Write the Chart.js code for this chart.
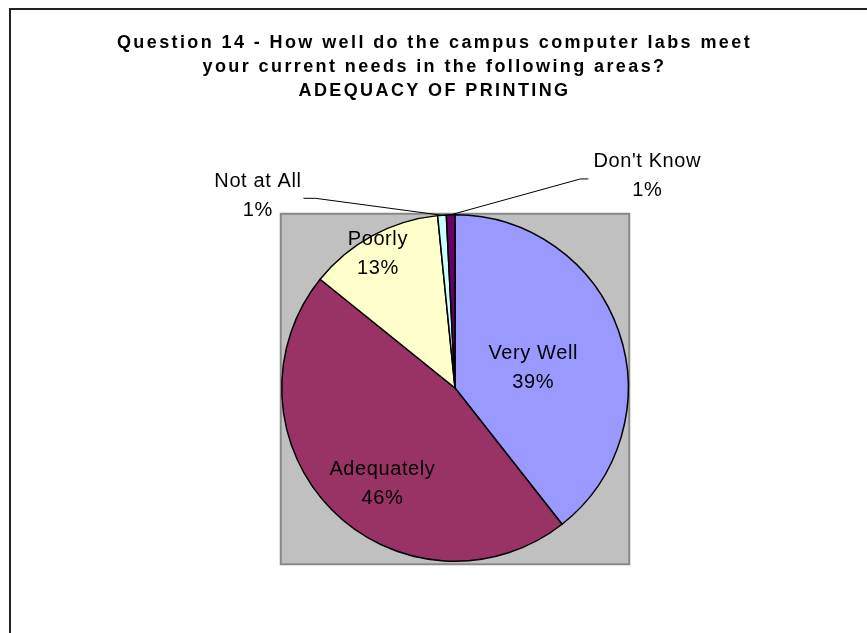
<!DOCTYPE html>
<html>
<head>
<meta charset="utf-8">
<script src="https://cdn.jsdelivr.net/npm/chart.js@4.4.0/dist/chart.umd.min.js"></script>
<style>
  html, body { margin: 0; padding: 0; background: #fff; }
</style>
</head>
<body>
<canvas id="printing-chart" width="867" height="633"></canvas>
<script>
const titleLines = [
  "Question 14 - How well do the campus computer labs meet",
  "your current needs in the following areas?",
  "ADEQUACY OF PRINTING",
];
const categories = ["Very Well", "Adequately", "Poorly", "Not at All", "Don't Know"];
const shares = [39.4, 46.4, 12.6, 0.8, 0.8];
const sliceColors = ["#9999FF", "#993366", "#FFFFCC", "#CCFFFF", "#660066"];

// label spot per slice: distance as part of the radius, turn (deg) away from the slice middle
const labelSpots = [
  { r: 0.466, turn: 4.8, outside: false },
  { r: 0.695, turn: -8.3, outside: false },
  { r: 0.892, turn: -1.5, outside: false },
  { r: 1.589, turn: -41.4, outside: true },
  { r: 1.65, turn: 43.7, outside: true },
];

const FONT = "'Liberation Sans', Arial, sans-serif";
const ctx = document.getElementById("printing-chart").getContext("2d");

const framePlugin = {
  id: "frame",
  beforeDatasetsDraw(chart) {
    const c = chart.ctx;
    const arc = chart.getDatasetMeta(0).data[0];
    const { x, y, outerRadius } = arc.getProps(["x", "y", "outerRadius"], true);
    c.save();
    c.fillStyle = "#C0C0C0";
    c.strokeStyle = "#888888";
    c.lineWidth = 2;
    const left = x - outerRadius - 1;
    const top = y - outerRadius - 1;
    c.fillRect(left, top, outerRadius * 2 + 2, outerRadius * 2 + 4);
    c.strokeRect(left, top, outerRadius * 2 + 2, outerRadius * 2 + 4);
    c.restore();
  },
  afterDraw(chart) {
    const c = chart.ctx;
    c.save();
    // outer chart frame (only top and left show)
    c.strokeStyle = "#222";
    c.lineWidth = 2;
    c.beginPath();
    c.moveTo(10, chart.height);
    c.lineTo(10, 9);
    c.lineTo(chart.width, 9);
    c.stroke();

    // title
    c.font = "bold 18px " + FONT;
    c.letterSpacing = "2.4px";
    c.fillStyle = "#000";
    c.textAlign = "center";
    c.textBaseline = "alphabetic";
    titleLines.forEach((line, i) => {
      c.fillText(line, chart.width / 2 + 1, 48 + i * 24);
    });
    c.restore();
  },
};

const labelPlugin = {
  id: "sliceLabels",
  afterDatasetsDraw(chart) {
    const c = chart.ctx;
    const total = shares.reduce((a, b) => a + b, 0);
    c.save();
    c.font = "20px " + FONT;
    c.letterSpacing = "0.6px";
    c.fillStyle = "#000";
    c.textAlign = "center";
    c.textBaseline = "middle";
    chart.getDatasetMeta(0).data.forEach((arc, i) => {
      const p = arc.getProps(["x", "y", "startAngle", "endAngle", "outerRadius"], true);
      const mid = (p.startAngle + p.endAngle) / 2;
      const spot = labelSpots[i];
      const a = mid + (spot.turn * Math.PI) / 180;
      const lx = p.x + Math.cos(a) * p.outerRadius * spot.r;
      const ly = p.y + Math.sin(a) * p.outerRadius * spot.r;
      const pct = Math.round((shares[i] / total) * 100) + "%";
      c.fillText(categories[i], lx, ly - 14.5);
      c.fillText(pct, lx, ly + 14.5);

      if (spot.outside) {
        const half = c.measureText(categories[i]).width / 2;
        const onLeft = lx < p.x;
        const sx = onLeft ? lx + half + 2 : lx - half - 5;
        const stub = onLeft ? sx + 12 : sx - 8;
        c.save();
        c.strokeStyle = "#000";
        c.lineWidth = 1;
        c.beginPath();
        c.moveTo(sx, ly + 2.5);
        c.lineTo(stub, ly + 2.5);
        c.lineTo(p.x + Math.cos(mid) * p.outerRadius, p.y + Math.sin(mid) * p.outerRadius);
        c.stroke();
        c.restore();
      }
    });
    c.restore();
  },
};

new Chart(ctx, {
  type: "pie",
  data: {
    labels: categories,
    datasets: [
      {
        data: shares,
        backgroundColor: sliceColors,
        borderColor: "#000",
        borderWidth: 1.5,
      },
    ],
  },
  options: {
    responsive: false,
    animation: false,
    events: [],
    layout: {
      padding: { left: 281, right: 238, top: 214, bottom: 71 },
    },
    plugins: {
      legend: { display: false },
      tooltip: { enabled: false },
      title: { display: false },
    },
  },
  plugins: [framePlugin, labelPlugin],
});
</script>
</body>
</html>
